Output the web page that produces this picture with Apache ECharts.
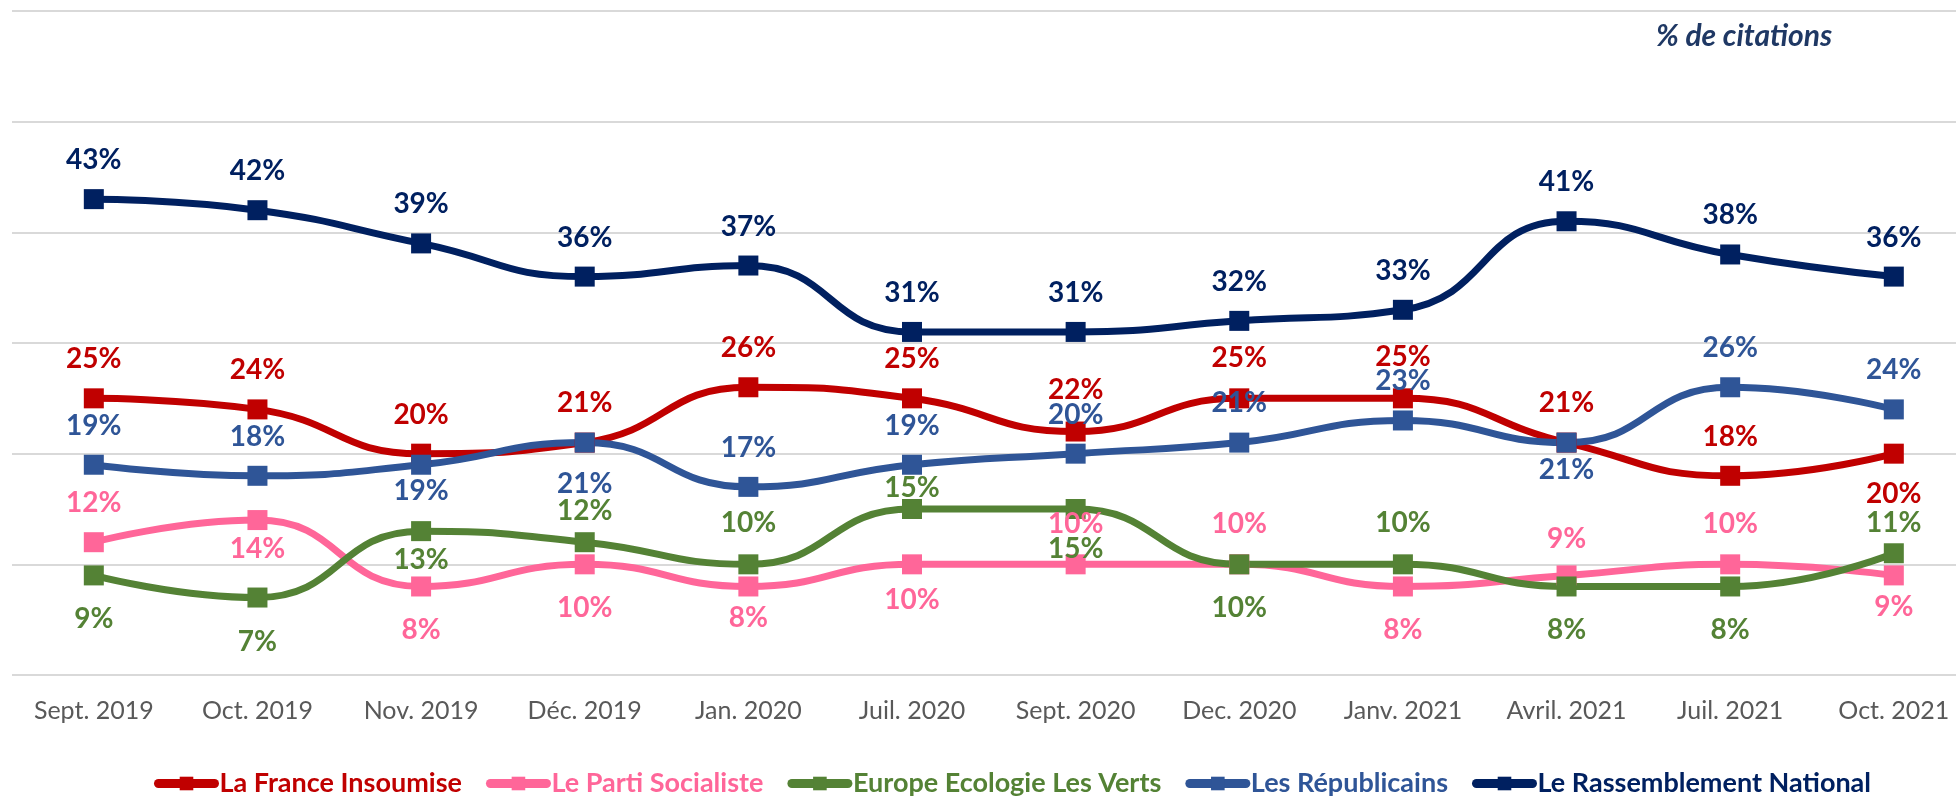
<!DOCTYPE html>
<html>
<head>
<meta charset="utf-8">
<script src="https://cdn.jsdelivr.net/npm/echarts@6/dist/echarts.min.js"></script>
<style>
  html, body {margin: 0; padding: 0; background: #fff;}
  #chart {width: 1956px; height: 806px;}
</style>
</head>
<body>
<div id="chart"></div>
<script>
const months = ["Sept. 2019", "Oct. 2019", "Nov. 2019", "Déc. 2019", "Jan. 2020", "Juil. 2020",
    "Sept. 2020", "Dec. 2020", "Janv. 2021", "Avril. 2021", "Juil. 2021", "Oct. 2021"];

const lfi = [25, 24, 20, 21, 26, 25, 22, 25, 25, 21, 18, 20];
const ps = [12, 14, 8, 10, 8, 10, 10, 10, 8, 9, 10, 9];
const eelv = [9, 7, 13, 12, 10, 15, 15, 10, 10, 8, 8, 11];
const lr = [19, 18, 19, 21, 17, 19, 20, 21, 23, 21, 26, 24];
const rn = [43, 42, 39, 36, 37, 31, 31, 32, 33, 41, 38, 36];

// vertical shift of each value label (px, negative = above the point)
const shiftLfi = [-39, -39, -39, -40, -39, -39, -42, -40, -41, -40, -39, 40];
const shiftPs = [-39, 29, 44, 44, 32, 36, -40, -40, 44, -36, -40, 32];
const shiftEelv = [44, 44, 29, -31, -41, -21, 40, 44, -41, 44, 44, -30];
const shiftLr = [-39, -39, 26, 41, -39, -39, -39, -40, -39, 27, -39, -39];
const shiftRn = [-39, -39, -39, -39, -39, -39, -39, -39, -39, -39, -39, -39];

const FONT = "Lato, 'Open Sans', sans-serif";

function makeSeries(name, values, shifts, color) {
    return {
        name: name,
        type: "line",
        smooth: 0.5,
        symbol: "rect",
        symbolSize: 20,
        color: color,
        lineStyle: {width: 7, color: color},
        itemStyle: {color: color},
        label: {
            show: true,
            position: "inside",
            color: color,
            fontFamily: FONT,
            fontWeight: "bold",
            fontSize: 28,
            formatter: p => p.value[1] + "%"
        },
        data: values.map((v, i) => ({value: [i, v], label: {offset: [0, shifts[i]]}}))
    };
}

const chart = echarts.init(document.getElementById("chart"));

chart.setOption({
    animation: false,
    title: {
        text: "% de citations",
        left: 1656,
        top: 21,
        padding: 0,
        textStyle: {
            color: "#1F3864",
            fontFamily: FONT,
            fontStyle: "italic",
            fontWeight: "bold",
            fontSize: 30
        }
    },
    grid: {left: 12, right: 0, top: 11, bottom: 131, outerBoundsMode: "none"},
    xAxis: {
        type: "value",
        min: -0.5,
        max: 11.38,
        axisLine: {show: false},
        axisTick: {show: false},
        splitLine: {show: false},
        axisLabel: {
            customValues: months.map((m, i) => i),
            formatter: v => months[v],
            color: "#595959",
            fontFamily: FONT,
            fontSize: 25,
            margin: 23
        }
    },
    yAxis: {
        type: "value",
        min: 0,
        max: 60,
        interval: 10,
        axisLabel: {show: false},
        axisLine: {show: false},
        axisTick: {show: false},
        splitLine: {lineStyle: {color: "#d9d9d9", width: 2}}
    },
    legend: {
        left: 154,
        top: 770,
        padding: 0,
        itemWidth: 56,
        itemHeight: 17,
        itemGap: 24,
        lineStyle: {width: 9, cap: "round"},
        textStyle: {fontFamily: FONT, fontWeight: "bold", fontSize: 27},
        data: [
            {name: "La France Insoumise", textStyle: {color: "#C00000"}},
            {name: "Le Parti Socialiste", textStyle: {color: "#FF6699"}},
            {name: "Europe Ecologie Les Verts", textStyle: {color: "#548235"}},
            {name: "Les Républicains", textStyle: {color: "#2F5597"}},
            {name: "Le Rassemblement National", textStyle: {color: "#002060"}}
        ]
    },
    series: [
        makeSeries("La France Insoumise", lfi, shiftLfi, "#C00000"),
        makeSeries("Le Parti Socialiste", ps, shiftPs, "#FF6699"),
        makeSeries("Europe Ecologie Les Verts", eelv, shiftEelv, "#548235"),
        makeSeries("Les Républicains", lr, shiftLr, "#2F5597"),
        makeSeries("Le Rassemblement National", rn, shiftRn, "#002060")
    ]
});
</script>
</body>
</html>
